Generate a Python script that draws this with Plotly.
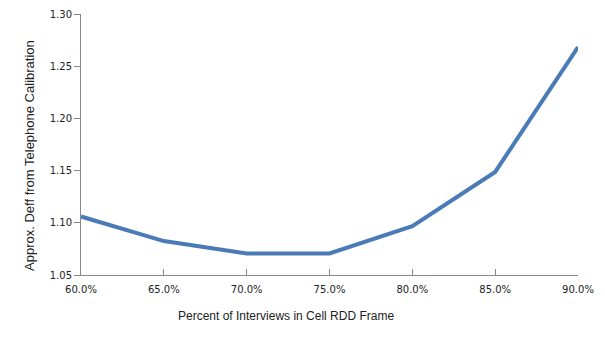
import plotly.graph_objects as go

pct = [0.60, 0.65, 0.70, 0.75, 0.80, 0.85, 0.90]
deff = [1.106, 1.0825, 1.0707, 1.0707, 1.0968, 1.1487, 1.2683]
x_ticks = [0.60, 0.65, 0.70, 0.75, 0.80, 0.85, 0.90]
y_ticks = [1.05, 1.10, 1.15, 1.20, 1.25, 1.30]

W, H = 605, 340
L, R, T, B = 81, 27, 14, 65

fig = go.Figure()
fig.add_trace(go.Scatter(x=pct, y=deff, mode="lines",
                         line=dict(color="#4a7bb7", width=4), showlegend=False))

fig.update_layout(
    width=W, height=H,
    margin=dict(l=L, r=R, t=T, b=B, autoexpand=False),
    plot_bgcolor="white", paper_bgcolor="white",
    font=dict(family="DejaVu Sans", size=10, color="#222"),
)
fig.update_xaxes(
    range=[0.60, 0.90], tickvals=x_ticks, tickformat=".1%",
    showline=True, linecolor="#888", linewidth=1,
    ticks="inside", ticklen=6, tickcolor="#888",
    showgrid=False, zeroline=False, automargin=False,
    ticklabelstandoff=5,
)
fig.update_yaxes(
    range=[1.05, 1.30], tickvals=y_ticks, tickformat=".2f",
    showline=True, linecolor="#888", linewidth=1,
    ticks="outside", ticklen=6, tickcolor="#888",
    showgrid=False, zeroline=False, automargin=False,
)

fig.add_annotation(text="Percent of Interviews in Cell RDD Frame",
                   xref="paper", yref="paper",
                   x=(286 - L) / (W - L - R), y=-(316 - (H - B)) / (H - T - B),
                   xanchor="center", yanchor="middle", showarrow=False,
                   font=dict(family="Liberation Sans", size=12, color="#222"))
fig.add_annotation(text="Approx. Deff from Telephone Calibration",
                   xref="paper", yref="paper",
                   x=-(L - 30) / (W - L - R), y=((H - B) - 156) / (H - T - B),
                   xanchor="center", yanchor="middle", textangle=-90, showarrow=False,
                   font=dict(family="Liberation Sans", size=13, color="#222"))

fig.write_html("out.html")
